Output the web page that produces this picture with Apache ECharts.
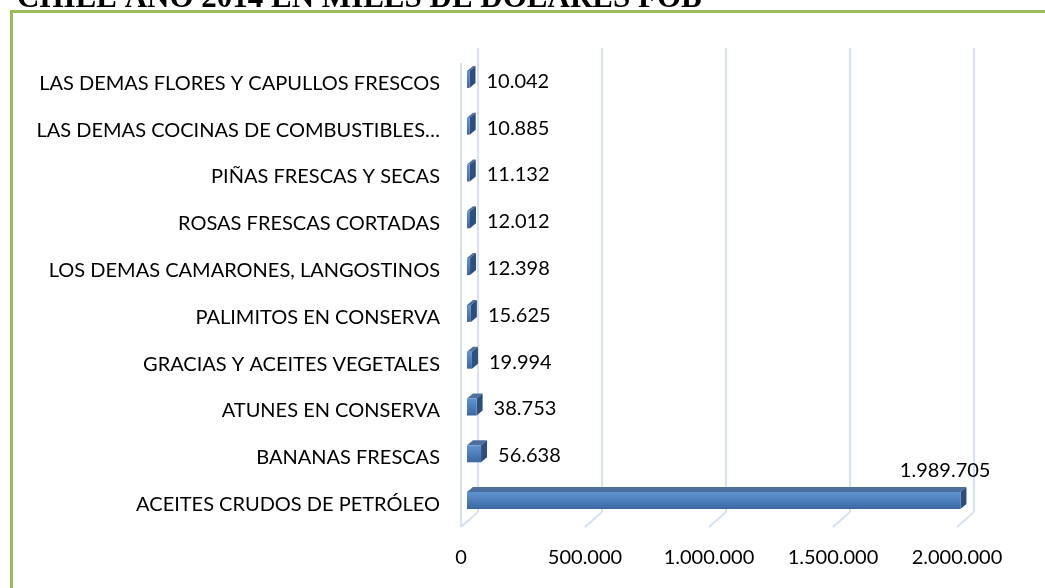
<!DOCTYPE html>
<html>
<head>
<meta charset="utf-8">
<script src="https://cdn.jsdelivr.net/npm/echarts@6/dist/echarts.min.js"></script>
<style>
  html, body { margin: 0; padding: 0; background: #fff; }
  #main { width: 1045px; height: 588px; }
</style>
</head>
<body>
<div id="main"></div>
<script>
  // categorias de abajo hacia arriba
  var categorias = [
    'ACEITES CRUDOS DE PETRÓLEO',
    'BANANAS FRESCAS',
    'ATUNES EN CONSERVA',
    'GRACIAS Y ACEITES VEGETALES',
    'PALIMITOS EN CONSERVA',
    'LOS DEMAS CAMARONES, LANGOSTINOS',
    'ROSAS FRESCAS CORTADAS',
    'PIÑAS FRESCAS Y SECAS',
    'LAS DEMAS COCINAS DE COMBUSTIBLES…',
    'LAS DEMAS FLORES Y CAPULLOS FRESCOS'
  ];
  var valores = [1989705, 56638, 38753, 19994, 15625, 12398, 12012, 11132, 10885, 10042];
  var ticksX = [0, 500000, 1000000, 1500000, 2000000];
  var titulo = 'CHILE AÑO 2014 EN MILES DE DÓLARES FOB';

  var fuente = 'Lato, "Open Sans", sans-serif';
  var tam = 20;

  function miles(v) {
    return String(v).replace(/\B(?=(\d{3})+(?!\d))/g, '.');
  }

  var myChart = echarts.init(document.getElementById('main'));

  // barra con efecto 3D (frente, tapa, lado)
  function dibujarBarra(params, api) {
    var val = api.value(0), idx = api.value(1);
    var p0 = api.coord([0, idx]);
    var p1 = api.coord([val, idx]);
    var h = 17, dx = 6, dy = -5;
    var x0 = p0[0], x1 = p1[0];
    var y0 = p0[1] - h / 2, y1 = p0[1] + h / 2;
    var frente = new echarts.graphic.LinearGradient(0, 0, 0, 1, [
      { offset: 0, color: '#6194D2' },
      { offset: 0.45, color: '#4F81BD' },
      { offset: 1, color: '#3B67A2' }
    ]);
    var hijos = [
      { type: 'polygon', shape: { points: [[x0, y0], [x0 + dx, y0 + dy], [x1 + dx, y0 + dy], [x1, y0]] },
        style: { fill: '#4D6F9D' } },
      { type: 'polygon', shape: { points: [[x1, y0], [x1 + dx, y0 + dy], [x1 + dx, y1 + dy], [x1, y1]] },
        style: { fill: '#2E4F7C' } },
      { type: 'rect', shape: { x: x0, y: y0, width: Math.max(x1 - x0, 0.5), height: h },
        style: { fill: frente } }
    ];
    var texto = miles(val);
    if (x1 + 120 > api.getWidth() - 20) {
      hijos.push({ type: 'text', style: { text: texto, x: x1 + 30, y: y0 - 22, align: 'right',
        verticalAlign: 'middle', fill: '#000', fontSize: tam, fontFamily: fuente } });
    } else {
      hijos.push({ type: 'text', style: { text: texto, x: x1 + 17, y: p0[1] + 2, align: 'left',
        verticalAlign: 'middle', fill: '#000', fontSize: tam, fontFamily: fuente } });
    }
    return { type: 'group', children: hijos };
  }

  // lineas del piso y pared izquierda
  function dibujarPiso(params, api) {
    var v = api.value(0);
    var abajo = api.coord([v, 0]);
    var arriba = api.coord([v, 1]);
    var ox = -17, oy = 15;
    var estilo = { stroke: '#D6E1F1', lineWidth: 2 };
    var hijos = [
      { type: 'line', shape: { x1: abajo[0], y1: abajo[1], x2: abajo[0] + ox, y2: abajo[1] + oy }, style: estilo }
    ];
    if (v === 0) {
      hijos.push({ type: 'line', shape: { x1: abajo[0] + ox, y1: abajo[1] + oy, x2: arriba[0] + ox, y2: arriba[1] + oy }, style: estilo });
    }
    return { type: 'group', children: hijos };
  }

  var option = {
    backgroundColor: '#fff',
    animation: false,
    title: {
      text: titulo,
      left: 12,
      top: -22,
      textStyle: { fontFamily: '"Liberation Serif", "DejaVu Serif", serif', fontWeight: 'bold', fontSize: 31, color: '#000' }
    },
    graphic: [
      { type: 'rect', shape: { x: 11.5, y: 11.5, width: 1200, height: 800 },
        style: { fill: null, stroke: '#9BBB59', lineWidth: 3 }, silent: true }
    ],
    grid: [
      { left: 478, top: 48, width: 496, height: 464 },
      { left: 467, top: 56, width: 496, height: 468 }
    ],
    xAxis: [
      {
        gridIndex: 0, type: 'value', min: 0, max: 2000000, interval: 500000,
        axisLine: { show: false }, axisTick: { show: false }, axisLabel: { show: false },
        splitLine: { show: true, lineStyle: { color: '#D6E1F1', width: 2 } }
      },
      {
        gridIndex: 1, type: 'value', min: 0, max: 2000000, interval: 500000,
        axisLine: { show: false }, axisTick: { show: false }, splitLine: { show: false },
        axisLabel: {
          margin: 24, padding: [0, 12, 0, 0], color: '#000', fontSize: tam, fontFamily: fuente,
          formatter: miles
        }
      }
    ],
    yAxis: [
      { gridIndex: 0, type: 'value', min: 0, max: 1, show: false },
      {
        gridIndex: 1, type: 'category', data: categorias,
        axisLine: { show: false }, axisTick: { show: false }, splitLine: { show: false },
        axisLabel: {
          margin: 27, color: '#000', fontSize: tam, fontFamily: fuente,
          formatter: function (v) { return '{c|' + v + '}'; },
          rich: { c: { padding: [8, 0, 0, 0], color: '#000', fontSize: tam, fontFamily: fuente } }
        }
      }
    ],
    series: [
      {
        type: 'custom', xAxisIndex: 0, yAxisIndex: 0, silent: true,
        renderItem: dibujarPiso,
        data: ticksX.map(function (v) { return [v]; })
      },
      {
        type: 'custom', xAxisIndex: 1, yAxisIndex: 1,
        renderItem: dibujarBarra,
        encode: { x: 0, y: 1 },
        data: valores.map(function (v, i) { return [v, i]; })
      }
    ]
  };

  myChart.setOption(option);
</script>
</body>
</html>
